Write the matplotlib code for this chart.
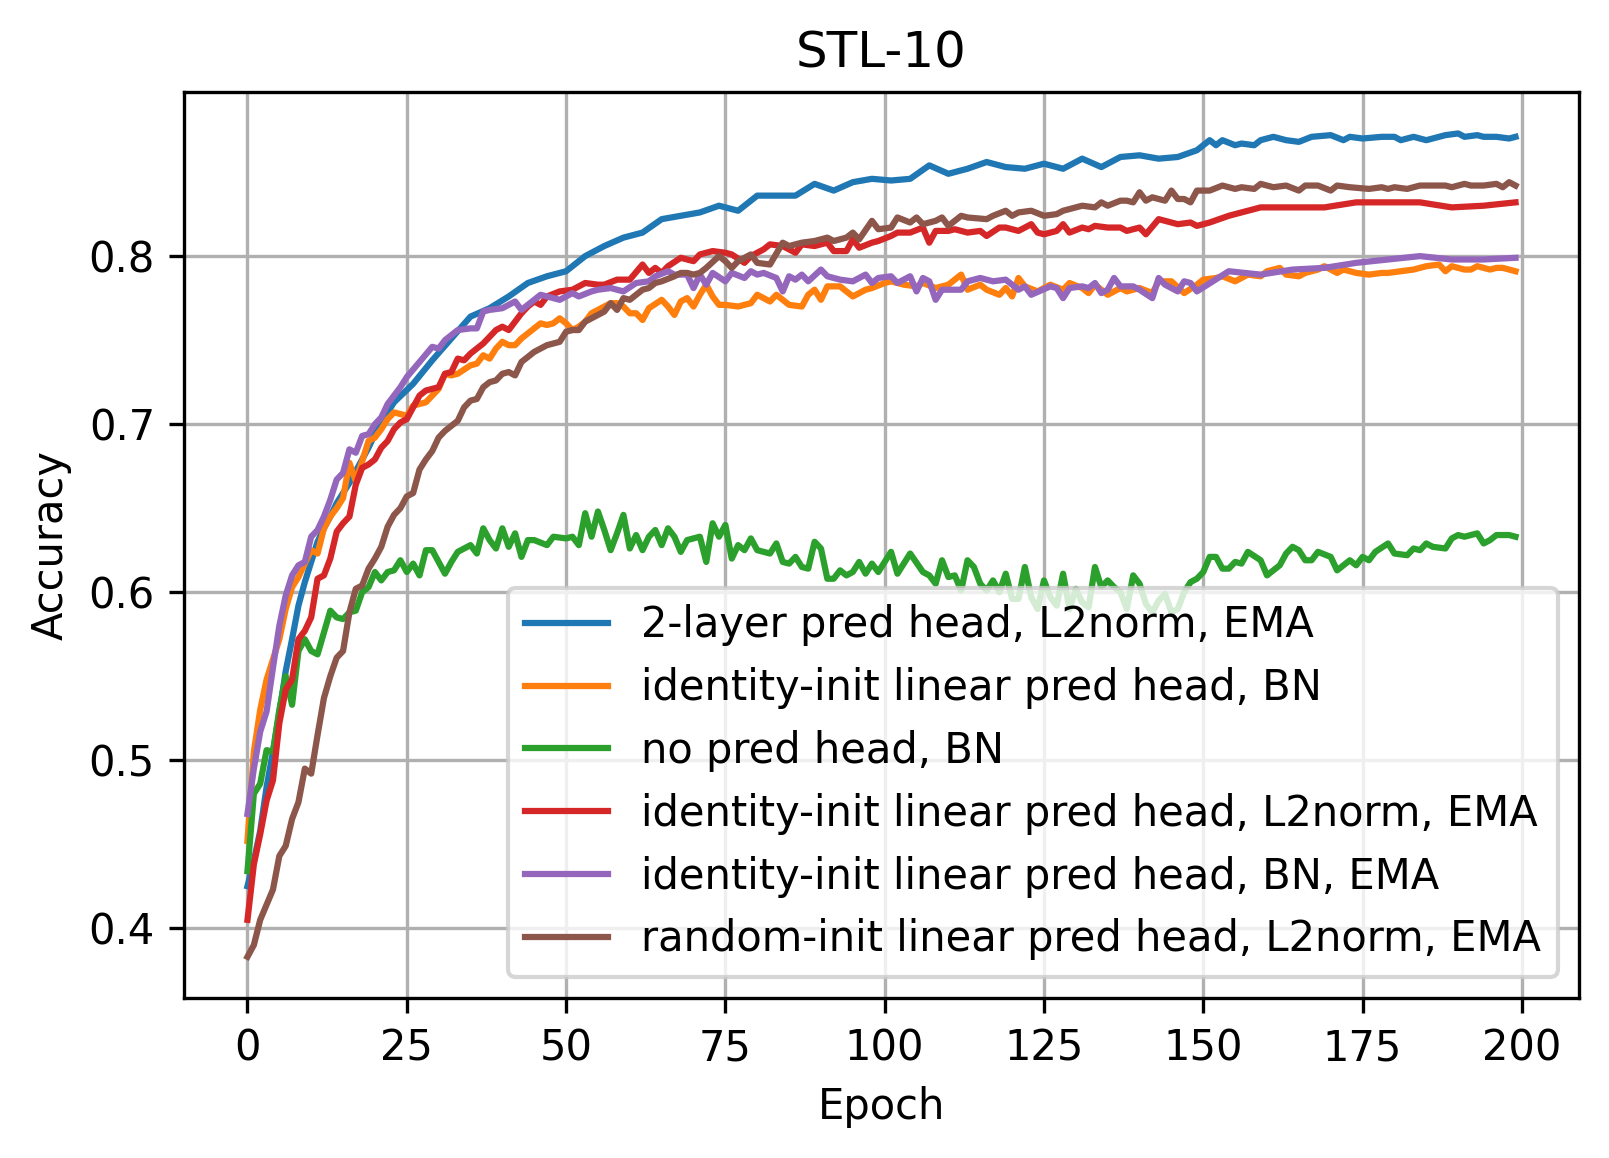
import matplotlib
matplotlib.use("Agg")
import matplotlib.pyplot as plt

# accuracy per epoch
ep_2layer = [0, 1, 2, 3, 4, 5, 6, 7, 8, 9,
             10, 11, 12, 13, 14, 15, 16, 17, 18, 19,
             20, 21, 23, 26, 29, 32, 35, 38, 41, 44,
             47, 50, 53, 56, 59, 62, 65, 68, 71, 74,
             77, 80, 83, 86, 89, 92, 95, 98, 101, 104,
             107, 110, 113, 116, 119, 122, 125, 128, 131, 134,
             137, 140, 143, 146, 149, 151, 152, 153, 155, 156,
             158, 159, 161, 163, 165, 167, 170, 172, 173, 175,
             178, 180, 181, 183, 185, 187, 188, 190, 191, 193,
             194, 196, 198, 199]
acc_2layer = [0.425, 0.440, 0.458, 0.484, 0.505, 0.528, 0.553, 0.572, 0.592, 0.606,
              0.618, 0.630, 0.638, 0.645, 0.653, 0.659, 0.665, 0.672, 0.679, 0.686,
              0.694, 0.701, 0.713, 0.724, 0.738, 0.751, 0.764, 0.769, 0.776, 0.784,
              0.788, 0.791, 0.800, 0.806, 0.811, 0.814, 0.822, 0.824, 0.826, 0.830,
              0.827, 0.836, 0.836, 0.836, 0.843, 0.839, 0.844, 0.846, 0.845, 0.846,
              0.854, 0.849, 0.852, 0.856, 0.853, 0.852, 0.855, 0.852, 0.858, 0.853,
              0.859, 0.860, 0.858, 0.859, 0.863, 0.869, 0.866, 0.869, 0.866, 0.867,
              0.866, 0.869, 0.871, 0.869, 0.868, 0.871, 0.872, 0.869, 0.871, 0.870,
              0.871, 0.871, 0.869, 0.871, 0.869, 0.871, 0.872, 0.873, 0.871, 0.872,
              0.871, 0.871, 0.870, 0.871]

ep_id_bn = [0, 1, 2, 3, 4, 5, 6, 7, 8, 9,
            10, 11, 12, 13, 14, 15, 16, 17, 18, 19,
            20, 21, 22, 23, 24, 25, 26, 27, 28, 30,
            31, 32, 33, 35, 36, 37, 38, 39, 40, 41,
            42, 43, 45, 46, 47, 48, 49, 50, 51, 52,
            53, 54, 55, 57, 58, 59, 60, 61, 62, 63,
            65, 66, 67, 68, 69, 70, 71, 72, 73, 74,
            75, 77, 79, 80, 82, 83, 85, 87, 88, 89,
            90, 91, 93, 95, 97, 98, 100, 101, 103, 105,
            106, 108, 110, 112, 113, 115, 116, 118, 119, 120,
            121, 122, 124, 126, 128, 129, 131, 132, 133, 135,
            137, 138, 140, 142, 143, 145, 147, 149, 150, 152,
            153, 155, 157, 159, 160, 162, 163, 165, 166, 168,
            169, 171, 172, 174, 176, 178, 179, 181, 183, 185,
            187, 188, 189, 191, 192, 193, 195, 196, 197, 199]
acc_id_bn = [0.452, 0.505, 0.530, 0.548, 0.560, 0.572, 0.590, 0.603, 0.609, 0.617,
             0.625, 0.623, 0.638, 0.645, 0.650, 0.656, 0.677, 0.666, 0.678, 0.690,
             0.692, 0.697, 0.703, 0.707, 0.706, 0.705, 0.711, 0.712, 0.713, 0.721,
             0.730, 0.729, 0.730, 0.735, 0.736, 0.741, 0.739, 0.745, 0.749, 0.747,
             0.747, 0.751, 0.757, 0.760, 0.759, 0.760, 0.763, 0.760, 0.756, 0.758,
             0.761, 0.766, 0.768, 0.772, 0.772, 0.770, 0.766, 0.766, 0.762, 0.769,
             0.774, 0.770, 0.765, 0.773, 0.775, 0.770, 0.777, 0.783, 0.776, 0.771,
             0.771, 0.770, 0.772, 0.777, 0.773, 0.777, 0.771, 0.770, 0.777, 0.780,
             0.774, 0.782, 0.782, 0.776, 0.780, 0.781, 0.784, 0.785, 0.783, 0.782,
             0.784, 0.781, 0.783, 0.789, 0.780, 0.783, 0.780, 0.777, 0.781, 0.776,
             0.787, 0.782, 0.779, 0.783, 0.780, 0.784, 0.781, 0.778, 0.783, 0.777,
             0.781, 0.779, 0.781, 0.778, 0.785, 0.785, 0.778, 0.783, 0.786, 0.787,
             0.788, 0.785, 0.789, 0.788, 0.791, 0.793, 0.789, 0.788, 0.790, 0.792,
             0.794, 0.790, 0.792, 0.790, 0.789, 0.790, 0.790, 0.791, 0.792, 0.794,
             0.795, 0.791, 0.794, 0.792, 0.792, 0.794, 0.792, 0.793, 0.793, 0.791]

ep_nohead = [0, 1, 2, 3, 4, 5, 6, 7, 8, 9,
             10, 11, 12, 13, 14, 15, 16, 17, 18, 19,
             20, 21, 22, 23, 24, 25, 26, 27, 28, 29,
             30, 31, 32, 33, 35, 36, 37, 38, 39, 40,
             41, 42, 43, 44, 45, 47, 48, 50, 51, 52,
             53, 54, 55, 56, 57, 58, 59, 60, 61, 62,
             63, 64, 65, 66, 67, 68, 69, 71, 72, 73,
             74, 75, 76, 77, 78, 79, 80, 82, 83, 84,
             85, 86, 87, 88, 89, 90, 91, 92, 93, 94,
             95, 96, 97, 98, 99, 101, 102, 104, 106, 107,
             108, 109, 110, 111, 112, 113, 114, 115, 116, 117,
             118, 119, 120, 121, 122, 123, 124, 125, 126, 127,
             128, 129, 130, 131, 132, 133, 134, 135, 136, 137,
             138, 139, 140, 141, 142, 143, 144, 145, 146, 147,
             148, 149, 150, 151, 152, 153, 154, 155, 156, 157,
             159, 160, 162, 163, 164, 165, 166, 167, 168, 170,
             171, 172, 173, 174, 175, 176, 177, 179, 180, 182,
             183, 184, 185, 186, 188, 189, 190, 191, 193, 194,
             195, 196, 198, 199]
acc_nohead = [0.434, 0.480, 0.486, 0.506, 0.505, 0.530, 0.550, 0.533, 0.565, 0.572,
              0.565, 0.563, 0.576, 0.589, 0.585, 0.584, 0.588, 0.589, 0.600, 0.603,
              0.612, 0.607, 0.612, 0.613, 0.619, 0.612, 0.617, 0.610, 0.625, 0.625,
              0.618, 0.611, 0.618, 0.624, 0.628, 0.623, 0.638, 0.631, 0.626, 0.638,
              0.627, 0.635, 0.621, 0.631, 0.631, 0.628, 0.633, 0.632, 0.633, 0.628,
              0.647, 0.633, 0.648, 0.637, 0.625, 0.635, 0.646, 0.626, 0.634, 0.625,
              0.633, 0.637, 0.628, 0.638, 0.633, 0.624, 0.631, 0.633, 0.618, 0.641,
              0.633, 0.640, 0.620, 0.628, 0.625, 0.632, 0.625, 0.623, 0.629, 0.618,
              0.617, 0.621, 0.615, 0.614, 0.630, 0.626, 0.608, 0.608, 0.613, 0.610,
              0.612, 0.618, 0.611, 0.617, 0.612, 0.624, 0.611, 0.623, 0.612, 0.610,
              0.605, 0.619, 0.609, 0.610, 0.601, 0.619, 0.615, 0.605, 0.601, 0.607,
              0.600, 0.611, 0.596, 0.596, 0.615, 0.597, 0.590, 0.607, 0.597, 0.592,
              0.611, 0.590, 0.602, 0.594, 0.591, 0.615, 0.603, 0.607, 0.603, 0.600,
              0.590, 0.610, 0.605, 0.593, 0.588, 0.595, 0.599, 0.588, 0.590, 0.600,
              0.606, 0.608, 0.612, 0.621, 0.621, 0.614, 0.614, 0.618, 0.617, 0.624,
              0.619, 0.610, 0.616, 0.623, 0.627, 0.625, 0.619, 0.619, 0.624, 0.621,
              0.613, 0.616, 0.619, 0.616, 0.621, 0.619, 0.624, 0.629, 0.623, 0.622,
              0.626, 0.625, 0.629, 0.627, 0.626, 0.632, 0.634, 0.633, 0.635, 0.629,
              0.631, 0.634, 0.634, 0.633]

ep_id_l2 = [0, 1, 2, 3, 4, 5, 6, 7, 8, 9,
            10, 11, 12, 13, 14, 15, 16, 17, 18, 19,
            20, 21, 22, 23, 24, 25, 26, 27, 28, 30,
            31, 32, 33, 34, 35, 36, 37, 39, 40, 41,
            43, 44, 45, 46, 47, 49, 51, 52, 53, 55,
            56, 58, 60, 62, 63, 64, 65, 66, 68, 70,
            71, 73, 75, 76, 78, 79, 81, 82, 84, 86,
            87, 89, 91, 92, 94, 95, 96, 98, 99, 101,
            102, 104, 106, 107, 108, 110, 111, 113, 115, 116,
            118, 119, 121, 123, 124, 125, 127, 128, 129, 131,
            132, 133, 135, 137, 138, 140, 141, 143, 144, 146,
            148, 149, 151, 154, 159, 164, 169, 174, 179, 184,
            189, 194, 199]
acc_id_l2 = [0.405, 0.438, 0.456, 0.476, 0.488, 0.522, 0.542, 0.548, 0.572, 0.577,
             0.585, 0.608, 0.610, 0.620, 0.636, 0.641, 0.645, 0.664, 0.674, 0.676,
             0.679, 0.686, 0.690, 0.697, 0.701, 0.703, 0.710, 0.717, 0.720, 0.722,
             0.730, 0.731, 0.739, 0.738, 0.742, 0.745, 0.748, 0.756, 0.758, 0.756,
             0.766, 0.770, 0.773, 0.771, 0.776, 0.779, 0.780, 0.782, 0.784, 0.783,
             0.783, 0.786, 0.786, 0.795, 0.790, 0.793, 0.790, 0.794, 0.799, 0.797,
             0.801, 0.803, 0.802, 0.801, 0.796, 0.800, 0.804, 0.807, 0.806, 0.802,
             0.807, 0.806, 0.808, 0.803, 0.803, 0.810, 0.805, 0.808, 0.809, 0.812,
             0.814, 0.814, 0.817, 0.808, 0.815, 0.815, 0.816, 0.814, 0.815, 0.812,
             0.817, 0.817, 0.815, 0.819, 0.814, 0.813, 0.815, 0.819, 0.814, 0.817,
             0.816, 0.818, 0.817, 0.817, 0.815, 0.817, 0.813, 0.822, 0.821, 0.819,
             0.820, 0.818, 0.820, 0.824, 0.829, 0.829, 0.829, 0.832, 0.832, 0.832,
             0.829, 0.830, 0.832]

ep_id_bn_ema = [0, 1, 2, 3, 4, 5, 6, 7, 8, 9,
                10, 11, 12, 13, 14, 15, 16, 17, 18, 19,
                20, 21, 22, 24, 25, 27, 29, 30, 31, 33,
                35, 36, 37, 38, 40, 42, 43, 45, 46, 48,
                49, 51, 52, 54, 55, 57, 59, 61, 63, 64,
                66, 67, 69, 70, 71, 72, 73, 75, 76, 78,
                79, 80, 81, 83, 84, 85, 86, 87, 88, 90,
                91, 93, 95, 97, 98, 99, 101, 102, 104, 105,
                106, 107, 108, 109, 112, 113, 115, 117, 119, 121,
                122, 123, 126, 127, 128, 129, 131, 132, 133, 134,
                135, 136, 137, 139, 140, 142, 143, 144, 146, 147,
                148, 149, 154, 159, 164, 169, 174, 179, 184, 189,
                194, 199]
acc_id_bn_ema = [0.468, 0.495, 0.517, 0.529, 0.555, 0.580, 0.598, 0.610, 0.616, 0.618,
                 0.633, 0.637, 0.645, 0.655, 0.667, 0.671, 0.685, 0.683, 0.693, 0.694,
                 0.700, 0.704, 0.712, 0.722, 0.728, 0.737, 0.746, 0.745, 0.750, 0.756,
                 0.757, 0.757, 0.767, 0.768, 0.769, 0.773, 0.768, 0.774, 0.777, 0.775,
                 0.774, 0.778, 0.776, 0.779, 0.780, 0.781, 0.779, 0.784, 0.785, 0.788,
                 0.791, 0.789, 0.789, 0.781, 0.789, 0.783, 0.790, 0.785, 0.790, 0.787,
                 0.791, 0.789, 0.790, 0.787, 0.779, 0.788, 0.786, 0.789, 0.785, 0.792,
                 0.788, 0.786, 0.785, 0.789, 0.784, 0.787, 0.788, 0.784, 0.788, 0.779,
                 0.787, 0.785, 0.774, 0.780, 0.780, 0.785, 0.787, 0.785, 0.786, 0.780,
                 0.782, 0.777, 0.782, 0.781, 0.775, 0.781, 0.782, 0.781, 0.784, 0.778,
                 0.780, 0.787, 0.782, 0.782, 0.780, 0.775, 0.787, 0.783, 0.779, 0.785,
                 0.784, 0.779, 0.791, 0.789, 0.792, 0.793, 0.796, 0.798, 0.800, 0.798,
                 0.798, 0.799]

ep_rand_l2 = [0, 1, 2, 3, 4, 5, 6, 7, 8, 9,
              10, 11, 12, 13, 14, 15, 16, 17, 18, 19,
              20, 21, 22, 23, 24, 25, 26, 27, 28, 29,
              30, 31, 32, 33, 34, 35, 36, 37, 38, 39,
              40, 41, 42, 43, 44, 45, 46, 47, 48, 49,
              50, 51, 52, 53, 55, 56, 57, 58, 59, 60,
              62, 63, 64, 65, 67, 68, 69, 70, 71, 72,
              74, 75, 76, 77, 79, 80, 82, 84, 85, 87,
              89, 91, 92, 94, 95, 96, 98, 99, 101, 102,
              104, 105, 106, 108, 109, 110, 112, 113, 116, 117,
              119, 120, 121, 123, 125, 127, 128, 130, 131, 133,
              134, 135, 137, 138, 139, 140, 141, 142, 144, 145,
              146, 147, 148, 149, 151, 153, 155, 156, 158, 159,
              161, 163, 165, 166, 168, 170, 171, 173, 176, 178,
              179, 180, 182, 184, 186, 188, 189, 191, 192, 194,
              196, 197, 198, 199]
acc_rand_l2 = [0.383, 0.390, 0.405, 0.414, 0.423, 0.443, 0.449, 0.465, 0.475, 0.495,
               0.492, 0.515, 0.537, 0.550, 0.561, 0.565, 0.588, 0.602, 0.604, 0.614,
               0.620, 0.627, 0.639, 0.646, 0.650, 0.657, 0.659, 0.673, 0.679, 0.684,
               0.692, 0.696, 0.699, 0.702, 0.710, 0.714, 0.715, 0.722, 0.725, 0.726,
               0.730, 0.731, 0.729, 0.737, 0.740, 0.743, 0.745, 0.747, 0.748, 0.749,
               0.755, 0.756, 0.756, 0.761, 0.765, 0.767, 0.772, 0.768, 0.775, 0.774,
               0.780, 0.781, 0.784, 0.785, 0.788, 0.790, 0.790, 0.789, 0.790, 0.793,
               0.800, 0.797, 0.793, 0.797, 0.801, 0.796, 0.795, 0.808, 0.806, 0.808,
               0.809, 0.811, 0.809, 0.811, 0.814, 0.810, 0.821, 0.816, 0.817, 0.823,
               0.820, 0.823, 0.819, 0.821, 0.823, 0.818, 0.824, 0.823, 0.822, 0.824,
               0.827, 0.824, 0.826, 0.827, 0.824, 0.825, 0.827, 0.829, 0.830, 0.829,
               0.832, 0.830, 0.833, 0.833, 0.832, 0.838, 0.833, 0.835, 0.833, 0.839,
               0.834, 0.834, 0.832, 0.839, 0.839, 0.842, 0.840, 0.841, 0.840, 0.843,
               0.841, 0.842, 0.839, 0.842, 0.842, 0.839, 0.842, 0.841, 0.840, 0.841,
               0.840, 0.841, 0.840, 0.842, 0.842, 0.842, 0.841, 0.843, 0.842, 0.842,
               0.843, 0.841, 0.844, 0.842]

labels = ['2-layer pred head, L2norm, EMA',
          'identity-init linear pred head, BN',
          'no pred head, BN',
          'identity-init linear pred head, L2norm, EMA',
          'identity-init linear pred head, BN, EMA',
          'random-init linear pred head, L2norm, EMA']

fig = plt.figure(figsize=(1609 / 300, 1158 / 300), dpi=300)
ax = fig.add_axes([0.1144, 0.1382, 0.8669, 0.7821])

ax.plot(ep_2layer, acc_2layer, label=labels[0])
ax.plot(ep_id_bn, acc_id_bn, label=labels[1])
ax.plot(ep_nohead, acc_nohead, label=labels[2])
ax.plot(ep_id_l2, acc_id_l2, label=labels[3])
ax.plot(ep_id_bn_ema, acc_id_bn_ema, label=labels[4])
ax.plot(ep_rand_l2, acc_rand_l2, label=labels[5])

ax.set_title('STL-10')
ax.set_xlabel('Epoch')
ax.set_ylabel('Accuracy')
ax.grid(True)
ax.legend(loc='lower right')

fig.savefig('out.png', dpi=300)
plt.close()
